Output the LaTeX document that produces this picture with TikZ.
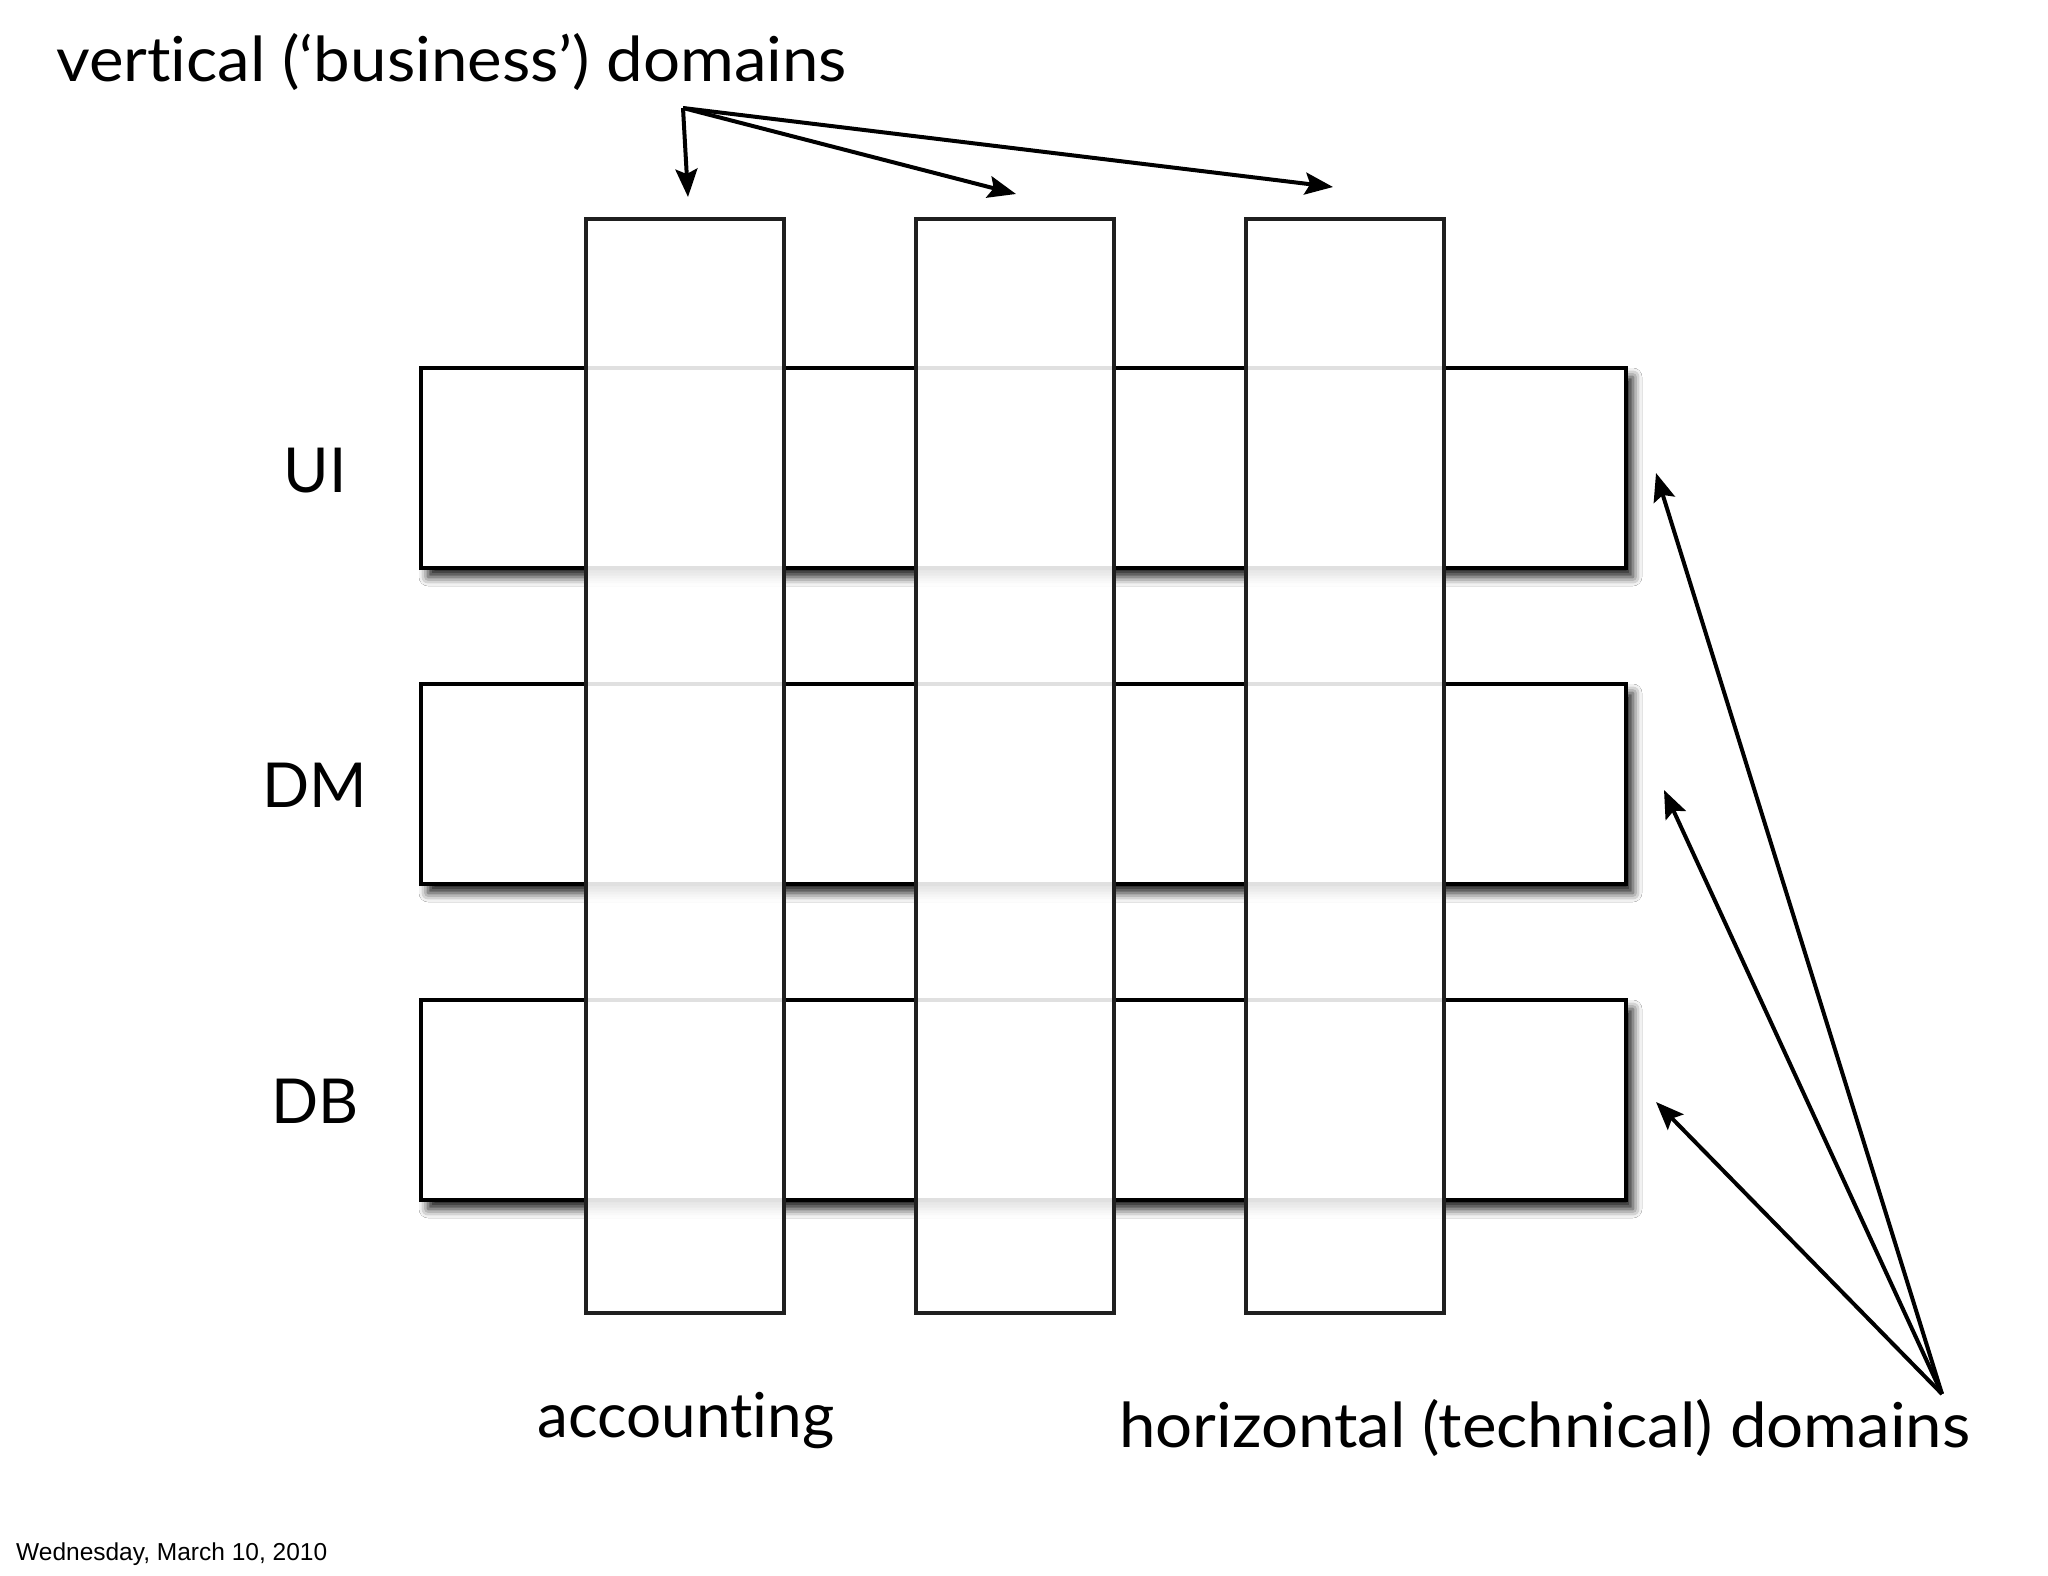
\documentclass[tikz,border=0pt]{standalone}
\usepackage{fontspec}
\setmainfont{Lato}[Ligatures=NoCommon]
\newfontfamily\titlefont{Lato}[Ligatures=NoCommon, FakeStretch=1.055]
\newfontfamily\datefont{Liberation Sans}
\usetikzlibrary{arrows.meta,shadows.blur}
\begin{document}
\begin{tikzpicture}[x=1pt,y=-1pt,
  hbox/.style={draw=black, line width=3.5pt, fill=white, minimum width=1205pt, minimum height=200pt, inner sep=0pt,
    blur shadow={shadow xshift=7pt, shadow yshift=-9pt, shadow blur radius=9pt, shadow opacity=90}},
  vbox/.style={draw=black!88, line width=3.3pt, fill=white, fill opacity=0.88, draw opacity=1, minimum width=198pt, minimum height=1094pt, inner sep=0pt},
  lbl/.style={font=\fontsize{62}{70}\selectfont, inner sep=0pt},
  ttl/.style={font=\titlefont\fontsize{62}{70}\selectfont, inner sep=0pt},
  arr/.style={line width=4pt, -{Stealth[length=28pt,width=22pt,inset=5pt]}}]
\useasboundingbox[fill=white] (0,0) rectangle (2048,1576);
% horizontal (technical) domains
\node[hbox] (ui) at (1023.5,468) {};
\node[hbox] (dm) at (1023.5,784) {};
\node[hbox] (db) at (1023.5,1100) {};
% vertical (business) domains
\node[vbox] (v1) at (685,766) {};
\node[vbox] (v2) at (1015,766) {};
\node[vbox] (v3) at (1345,766) {};
% labels
\node[lbl, anchor=base] (uil) at (315,492) {UI};
\node[lbl, anchor=base] (dml) at (315,807) {DM};
\node[lbl, anchor=base] (dbl) at (315,1123) {DB};
\node[ttl, anchor=base west] (vtitle) at (56,82) {vertical (‘business’) domains};
\node[lbl, anchor=base] (acc) at (686,1437) {accounting};
\node[ttl, anchor=base west] (htitle) at (1119,1447) {horizontal (technical) domains};
\node[font=\datefont\fontsize{24.5}{28}\selectfont, inner sep=0pt, anchor=base west] (date) at (16,1560) {Wednesday, March 10, 2010};
% arrows
\coordinate (vsrc) at (683,108);
\coordinate (vt1) at (688,197);
\coordinate (vt2) at (1016,194);
\coordinate (vt3) at (1333,187);
\coordinate (hsrc) at (1942,1394);
\coordinate (ht1) at (1656,473);
\coordinate (ht2) at (1664,790);
\coordinate (ht3) at (1656,1102);
\draw[arr] (vsrc) -- (vt1);
\draw[arr] (vsrc) -- (vt2);
\draw[arr] (vsrc) -- (vt3);
\draw[arr] (hsrc) -- (ht1);
\draw[arr] (hsrc) -- (ht2);
\draw[arr] (hsrc) -- (ht3);
\end{tikzpicture}
\end{document}
